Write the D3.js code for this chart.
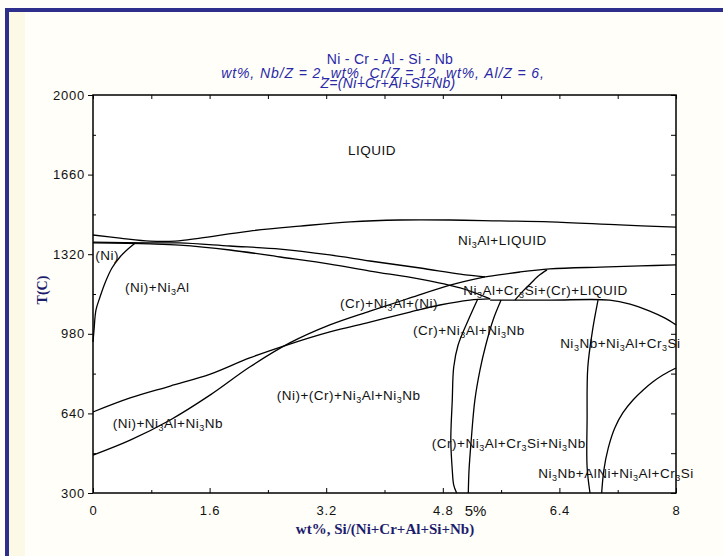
<!DOCTYPE html>
<html>
<head>
<meta charset="utf-8" />
<title>Ni-Cr-Al-Si-Nb isopleth</title>
<script src="https://d3js.org/d3.v7.min.js"></script>
<style>
  body { margin: 0; background: #fffef8; }
  text { font-family: Arial, "Liberation Sans", sans-serif; }
</style>
</head>
<body>
<svg width="723" height="556"></svg>
<script>
// tick values
var xTicks = [0, 1.6, 3.2, 4.8, 6.4, 8];
var yTicks = [300, 640, 980, 1320, 1660, 2000];

// phase boundaries, points are [wt% Si, T(C)]
var liquidus = [[0, 1402], [0.37, 1389], [0.78, 1376], [1.13, 1376], [1.47, 1389], [2.15, 1419], [2.84, 1440],
  [3.53, 1458], [4.21, 1466], [4.90, 1466], [5.58, 1462], [6.27, 1458], [7.23, 1445], [8, 1436]];
var solidusB = [[0, 1372], [0.78, 1368], [1.19, 1368], [1.88, 1355], [2.57, 1342], [3.25, 1317], [3.80, 1291],
  [4.49, 1261], [5.04, 1235], [5.38, 1223]];
var solidusC = [[0, 1368], [0.78, 1364], [1.19, 1359], [1.88, 1338], [2.57, 1308], [3.25, 1278], [3.80, 1248],
  [4.49, 1214], [5.04, 1176], [5.45, 1129]];
var niSolvus = [[0, 945], [0.014, 996], [0.041, 1082], [0.096, 1137], [0.165, 1197], [0.26, 1261], [0.37, 1308],
  [0.48, 1342], [0.58, 1368]];
var crLine = [[0, 646], [0.51, 706], [1.06, 757], [1.61, 808], [2.15, 877], [2.70, 936], [3.25, 988], [3.80, 1030],
  [4.35, 1073], [4.76, 1103], [5.17, 1124], [5.45, 1129]];
var nbLine = [[0, 462], [0.51, 526], [1.06, 612], [1.61, 719], [2.15, 838], [2.70, 941], [3.25, 1018], [3.80, 1077],
  [4.35, 1133], [4.90, 1188], [5.38, 1223]];
var liquidus2 = [[5.38, 1223], [5.86, 1244], [6.27, 1257], [6.96, 1265], [7.51, 1270], [8, 1274]];
var cr3siTop = [[5.45, 1124], [6.27, 1124], [7.09, 1124], [7.37, 1107], [7.64, 1077], [7.85, 1047], [8, 1018]];
var crArc = [[5.79, 1124], [5.89, 1159], [6.00, 1193], [6.11, 1227], [6.23, 1253]];
var vert1 = [[5.28, 1129], [5.15, 1039], [5.01, 932], [4.95, 838], [4.93, 697], [4.91, 526], [4.93, 398],
  [4.95, 334], [4.99, 300]];
var vert2 = [[5.60, 1124], [5.49, 1039], [5.39, 932], [5.31, 825], [5.24, 697], [5.19, 526], [5.16, 398], [5.15, 300]];
var vert3 = [[6.93, 1124], [6.86, 1005], [6.79, 838], [6.78, 612], [6.78, 411], [6.82, 300]];
var alniLine = [[6.98, 300], [7.01, 398], [7.07, 492], [7.16, 578], [7.27, 642], [7.41, 697], [7.55, 740],
  [7.68, 774], [7.82, 804], [8, 834]];

var curves = [liquidus, solidusB, solidusC, niSolvus, crLine, nbLine, liquidus2, cr3siTop, crArc,
  vert1, vert2, vert3, alniLine];

// region names, "_3" marks a subscript
var labels = [
  { text: "LIQUID", x: 3.83, t: 1744, mid: true },
  { text: "Ni_3Al+LIQUID", x: 5.01, t: 1359 },
  { text: "(Ni)", x: 0.03, t: 1295 },
  { text: "(Ni)+Ni_3Al", x: 0.44, t: 1159 },
  { text: "(Cr)+Ni_3Al+(Ni)", x: 3.39, t: 1090 },
  { text: "Ni_3Al+Cr_3Si+(Cr)+LIQUID", x: 5.08, t: 1146 },
  { text: "(Cr)+Ni_3Al+Ni_3Nb", x: 4.39, t: 975 },
  { text: "Ni_3Nb+Ni_3Al+Cr_3Si", x: 6.41, t: 919 },
  { text: "(Ni)+(Cr)+Ni_3Al+Ni_3Nb", x: 2.52, t: 697 },
  { text: "(Ni)+Ni_3Al+Ni_3Nb", x: 0.27, t: 578 },
  { text: "(Cr)+Ni_3Al+Cr_3Si+Ni_3Nb", x: 4.65, t: 492 },
  { text: "Ni_3Nb+AlNi+Ni_3Al+Cr_3Si", x: 6.11, t: 364 }
];

var svg = d3.select("svg");

// page frame
svg.append("rect").attr("x", 9).attr("y", 12).attr("width", 16).attr("height", 544).attr("fill", "#fcfae6");
svg.append("rect").attr("x", 5).attr("y", 8).attr("width", 718).attr("height", 4).attr("fill", "#2e2e8c");
svg.append("rect").attr("x", 5).attr("y", 8).attr("width", 4).attr("height", 548).attr("fill", "#2e2e8c");

var margin = { left: 93, top: 95, right: 676, bottom: 493 };
var x = d3.scaleLinear().domain([0, 8]).range([margin.left, margin.right]);
var y = d3.scaleLinear().domain([300, 2000]).range([margin.bottom, margin.top]);

svg.append("rect")
  .attr("x", margin.left).attr("y", margin.top)
  .attr("width", margin.right - margin.left).attr("height", margin.bottom - margin.top)
  .attr("fill", "#fff");

// minor tick positions
var xMinor = d3.range(0.8, 8, 1.6);
var yMinor = d3.range(470, 2000, 340);

function styleAxis(g) {
  g.attr("font-size", 13).attr("font-family", "Arial, 'Liberation Sans', sans-serif");
  g.select(".domain").remove();
  g.selectAll("line").attr("stroke", "#000");
  g.selectAll("text").attr("fill", "#111").attr("font-size", 13).style("letter-spacing", "0.8px");
}

var h = margin.bottom - margin.top, w = margin.right - margin.left;

svg.append("g").attr("transform", "translate(0," + margin.bottom + ")")
  .call(d3.axisBottom(x).tickValues(xTicks).tickSize(-5).tickPadding(13).tickFormat(function (d) { return d; }))
  .call(styleAxis);
svg.append("g").attr("transform", "translate(0," + margin.bottom + ")")
  .call(d3.axisBottom(x).tickValues(xMinor).tickSize(-3).tickFormat(""))
  .call(styleAxis);
svg.append("g").attr("transform", "translate(0," + margin.top + ")")
  .call(d3.axisTop(x).tickValues(xTicks.concat(xMinor)).tickSize(-4).tickFormat(""))
  .call(styleAxis);

svg.append("g").attr("transform", "translate(" + margin.left + ",0)")
  .call(d3.axisLeft(y).tickValues(yTicks).tickSize(5).tickPadding(3).tickFormat(d3.format("d")))
  .call(styleAxis);
svg.append("g").attr("transform", "translate(" + margin.left + ",0)")
  .call(d3.axisLeft(y).tickValues(yMinor).tickSize(-3).tickFormat(""))
  .call(styleAxis);
svg.append("g").attr("transform", "translate(" + margin.right + ",0)")
  .call(d3.axisRight(y).tickValues(yTicks.concat(yMinor)).tickSize(-5).tickFormat(""))
  .call(styleAxis);

// frame
svg.append("rect")
  .attr("x", margin.left).attr("y", margin.top).attr("width", w).attr("height", h)
  .attr("fill", "none").attr("stroke", "#000").attr("stroke-width", 1.5);

// the boundaries
var line = d3.line()
  .x(function (d) { return x(d[0]); })
  .y(function (d) { return y(d[1]); })
  .curve(d3.curveCatmullRom);

svg.append("g").selectAll("path")
  .data(curves)
  .enter()
  .append("path")
  .attr("d", line)
  .attr("fill", "none")
  .attr("stroke", "#000")
  .attr("stroke-width", 1.3);

// region labels
labels.forEach(function (l) {
  var t = svg.append("text")
    .attr("x", x(l.x)).attr("y", y(l.t))
    .attr("text-anchor", l.mid ? "middle" : "start")
    .attr("font-size", 13.5).style("letter-spacing", "0.5px").attr("fill", "#111");
  var shift = 0;
  l.text.split(/(_\d)/).forEach(function (part) {
    if (!part) return;
    if (part[0] === "_") {
      t.append("tspan").text(part.slice(1)).attr("dy", 3).attr("font-size", 9);
      shift = -3;
    } else {
      t.append("tspan").text(part).attr("dy", shift).attr("font-size", 13.5);
      shift = 0;
    }
  });
});

// 5% mark next to 4.8
svg.append("text").attr("x", x(5.25)).attr("y", 516).attr("text-anchor", "middle")
  .attr("font-size", 15).attr("fill", "#111").text("5%");

// title
var title = svg.append("g").attr("fill", "#2828a8").attr("text-anchor", "middle")
  .attr("font-size", 14).style("letter-spacing", "0.3px");
title.append("text").attr("x", 390).attr("y", 64).attr("font-size", 14).text("Ni - Cr - Al - Si - Nb");
title.append("text").attr("x", 383).attr("y", 78).attr("font-size", 14)
  .style("font-style", "italic").style("letter-spacing", "0.9px")
  .text("wt%, Nb/Z = 2,  wt%, Cr/Z = 12,  wt%, Al/Z = 6,");
title.append("text").attr("x", 388).attr("y", 88).attr("font-size", 14).style("font-style", "italic")
  .text("Z=(Ni+Cr+Al+Si+Nb)");

// axis titles
svg.append("text")
  .attr("transform", "translate(47,290) rotate(-90)")
  .attr("text-anchor", "middle")
  .style("font-family", "'Liberation Serif', 'DejaVu Serif', serif")
  .style("font-weight", "bold").attr("font-size", 14).attr("fill", "#1c1c6e")
  .text("T(C)");
svg.append("text")
  .attr("x", 385).attr("y", 534)
  .attr("text-anchor", "middle")
  .style("font-family", "'Liberation Serif', 'DejaVu Serif', serif")
  .style("font-weight", "bold").attr("font-size", 15).attr("fill", "#1c1c6e")
  .text("wt%, Si/(Ni+Cr+Al+Si+Nb)");
</script>
</body>
</html>
